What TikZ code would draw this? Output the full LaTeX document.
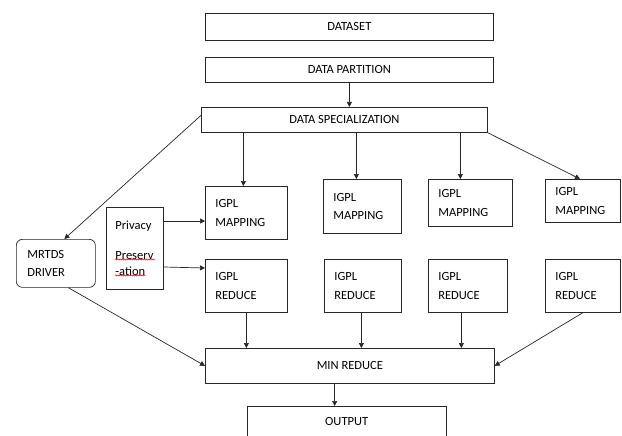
\documentclass[tikz,border=0pt]{standalone}
\usepackage{fontspec}
\setmainfont{Carlito}
\usetikzlibrary{arrows.meta,calc,decorations.pathmorphing}
\begin{document}
\begin{tikzpicture}[x=1pt,y=-1pt,
  box/.style={draw=black!85, line width=0.7pt, inner sep=0pt, anchor=north west,
    font=\fontsize{12.5}{15}\selectfont},
  lbox/.style={box, align=left, inner xsep=10pt,
    font=\fontsize{12.5}{18.5}\selectfont},
  arr/.style={draw=black!85, line width=0.7pt, -{Triangle[length=5pt,width=5pt]}},
  ln/.style={draw=black!85, line width=0.7pt},
  squig/.style={draw=red!80!black, line width=0.45pt, decorate,
    decoration={snake, segment length=2.2pt, amplitude=0.6pt}}]
\clip (0,0) rectangle (622,436);
\fill[white] (0,0) rectangle (622,436);

% top boxes
\node[box, minimum width=288, minimum height=27] (ds) at (205,13) {DATASET};
\node[box, minimum width=288, minimum height=25] (dp) at (205,57) {DATA PARTITION};
\node[box, minimum width=286, minimum height=25] (spec) at (201,107) {DATA SPECIALIZATION};

% mapping boxes
\node[lbox, minimum width=82, minimum height=53, text width=62] (m1) at (205,186) {IGPL\\MAPPING};
\node[lbox, minimum width=78, minimum height=54, text width=58] (m2) at (323,179) {IGPL\\MAPPING};
\node[lbox, minimum width=84, minimum height=47, text width=64] (m3) at (428,179) {IGPL\\MAPPING};
\node[lbox, minimum width=75, minimum height=43, text width=55] (m4) at (545,179) {IGPL\\MAPPING};

% reduce boxes
\node[lbox, minimum width=82, minimum height=53, text width=62] (r1) at (205,259) {IGPL\\REDUCE};
\node[lbox, minimum width=77, minimum height=53, text width=57] (r2) at (324,259) {IGPL\\REDUCE};
\node[lbox, minimum width=79, minimum height=53, text width=59] (r3) at (428,259) {IGPL\\REDUCE};
\node[lbox, minimum width=75, minimum height=53, text width=55] (r4) at (545,259) {IGPL\\REDUCE};

% privacy and driver
\node[box, align=left, inner xsep=9pt, minimum width=57, minimum height=82, text width=39,
  font=\fontsize{12.5}{16}\selectfont] (priv) at (106,207) {Privacy\\[14pt]Preserv\\-ation};
\node[lbox, rounded corners=6pt, minimum width=77, minimum height=48, text width=57, inner xsep=11pt] (drv) at (16,239) {MRTDS\\DRIVER};

% min reduce and output
\node[box, minimum width=289, minimum height=35] (minr) at (205,348) {MIN REDUCE};
\node[inner sep=0pt, anchor=north west, minimum width=199, minimum height=30,
  font=\fontsize{12.5}{15}\selectfont] (out) at (247,406) {OUTPUT};
\draw[ln] (out.south west) -- (out.north west) -- (out.north east) -- (out.south east);

% spell-check underlines
\draw[squig] ($(priv.north west)+(9,52.5)$) -- ($(priv.north west)+(49,52.5)$);
\draw[squig] ($(priv.north west)+(9,68.5)$) -- ($(priv.north west)+(40,68.5)$);

% connectors
\draw[arr] (dp.south) -- (dp.south |- spec.north);
\draw[arr] ([xshift=-3pt]m1.north |- spec.south) -- ([xshift=-3pt]m1.north);
\draw[arr] ([xshift=-6pt]m2.north |- spec.south) -- ([xshift=-6pt]m2.north);
\draw[arr] ([xshift=-10pt]m3.north |- spec.south) -- ([xshift=-10pt]m3.north);
\draw[arr] (spec.south east) -- ($(m4.north west)+(35,0)$);
\draw[arr] ([yshift=4.5pt]spec.west) -- ([xshift=8.5pt]drv.north);

\draw[arr] ($(priv.north east)+(0,14)$) coordinate (pa) -- (pa -| m1.west);
\draw[arr] ($(priv.north east)+(0,60)$) -- ($(r1.north west)+(0,9)$);

\draw[arr] (r1.south) -- (r1.south |- minr.north);
\draw[arr] ([xshift=-1.5pt]r2.south) -- ([xshift=-1.5pt]r2.south |- minr.north);
\draw[arr] ([xshift=-6.5pt]r3.south) -- ([xshift=-6.5pt]r3.south |- minr.north);
\draw[arr] (r4.south) -- (minr.east);
\draw[arr] ([xshift=12.5pt]drv.south) -- (minr.west);

\draw[arr] ([xshift=-12pt]out.north |- minr.south) -- ([xshift=-12pt]out.north);
\end{tikzpicture}
\end{document}
